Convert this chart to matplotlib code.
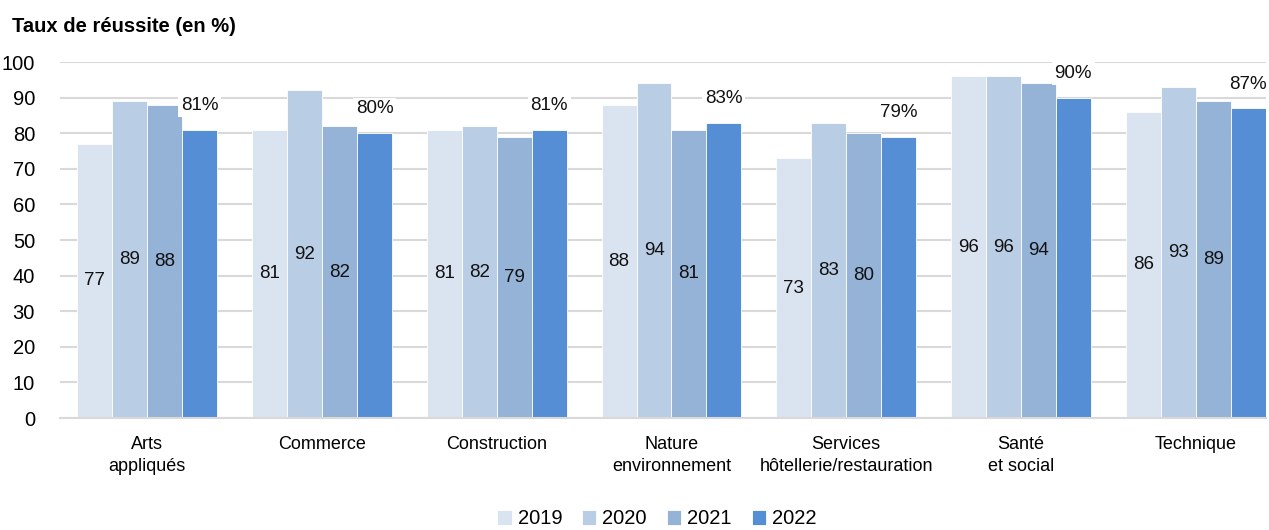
import numpy as np
import matplotlib

matplotlib.use("Agg")
from matplotlib import pyplot as plt

plt.rcParams["font.family"] = ["Liberation Sans", "DejaVu Sans"]

categories = [
    "Arts\nappliqués",
    "Commerce",
    "Construction",
    "Nature\nenvironnement",
    "Services\nhôtellerie/restauration",
    "Santé\net social",
    "Technique",
]
years = ["2019", "2020", "2021", "2022"]
rate_2019 = [77, 81, 81, 88, 73, 96, 86]
rate_2020 = [89, 92, 82, 94, 83, 96, 93]
rate_2021 = [88, 82, 79, 81, 80, 94, 89]
rate_2022 = [81, 80, 81, 83, 79, 90, 87]
colors = ["#DAE3F0", "#B9CDE5", "#95B3D7", "#558ED5"]

series = [rate_2019, rate_2020, rate_2021, rate_2022]

fig = plt.figure(figsize=(12.69, 5.30), dpi=100)
ax = fig.add_axes([60 / 1269, 1 - 418 / 530, 1206 / 1269, 356 / 530])

x = np.arange(len(categories))
width = 0.2
for i, (year, values, color) in enumerate(zip(years, series, colors)):
    offset = (i - 1.5) * width
    bars = ax.bar(x + offset, values, width, color=color, edgecolor="white",
                  linewidth=0.6, label=year, zorder=2)
    for bar, value in zip(bars, values):
        cx = bar.get_x() + bar.get_width() / 2
        if i < 3:
            ax.text(cx, value / 2, f"{value}", ha="center", va="center",
                    fontsize=13.5, color="#111111", zorder=3)
        else:
            # last year's rate sits above its bar, masking the grid behind it
            ax.text(cx, value + 6.8, f"{value}%", ha="center", va="center",
                    fontsize=13.5, color="#111111", zorder=3,
                    bbox=dict(facecolor="white", edgecolor="none", pad=2))

ax.set_ylim(0, 100)
ax.set_xlim(-0.5, 6.5 - 17 / 174.8)
ax.set_yticks(range(0, 101, 10))
ax.yaxis.grid(True, color="#D9D9D9", linewidth=1.5, zorder=0)
ax.set_axisbelow(True)
for side in ["top", "right", "left"]:
    ax.spines[side].set_visible(False)
ax.spines["bottom"].set_color("#D9D9D9")
ax.spines["bottom"].set_linewidth(1.5)
ax.tick_params(axis="y", length=0, labelsize=14.5, pad=18)
ax.tick_params(axis="x", length=0, labelsize=13, pad=13)
ax.set_xticks(x)
ax.set_xticklabels(categories, linespacing=1.35)

fig.text(12 / 1269, 1 - 26 / 530, "Taux de réussite (en %)", fontsize=14.5,
         fontweight="bold", va="center", ha="left")

fig.legend(loc="center", bbox_to_anchor=(657 / 1269, 1 - 519 / 530), ncol=4,
           frameon=False, fontsize=14.5, handlelength=0.7, handleheight=0.7,
           handletextpad=0.3, columnspacing=1.0)

fig.savefig("out.png", dpi=100)
